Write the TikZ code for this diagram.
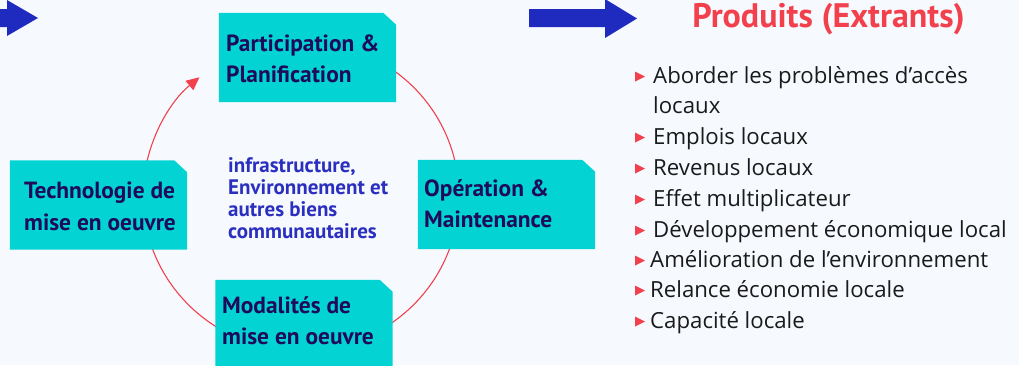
\documentclass[tikz,border=0pt]{standalone}
\usepackage{fontspec}
\setmainfont{Open Sans}
\newfontfamily\headfont{PT Sans}
\usetikzlibrary{arrows.meta}
\definecolor{bgc}{HTML}{F6FAFE}
\definecolor{tealbox}{HTML}{04D3D3}
\definecolor{boxtext}{HTML}{1E0B5B}
\definecolor{midblue}{HTML}{2B2FC0}
\definecolor{arrowblue}{HTML}{1F2BBE}
\definecolor{accent}{HTML}{F2404C}
\definecolor{listtext}{HTML}{1A1A1A}
\newcommand\chamferfill[1]{\fill[tealbox] (#1.north west) -- ([xshift=-13pt]#1.north east) -- ([yshift=-12pt]#1.north east) -- (#1.south east) -- (#1.south west) -- cycle;}
\newcommand\bulletat[2]{\fill[accent] ([shift={(-#2pt,11.5pt)}]#1.base west) -- ([shift={(-#2pt,1.5pt)}]#1.base west) -- ([shift={(10pt-#2pt,6.5pt)}]#1.base west) -- cycle;}
\begin{document}
\begin{tikzpicture}[x=1pt,y=1pt,
  stage/.style={rectangle, minimum width=177pt, minimum height=89pt, inner sep=0pt},
  stagetext/.style={font=\headfont\bfseries\fontsize{23.4}{31.5}\selectfont, text=boxtext, align=left, inner sep=0pt, anchor=west},
  midtext/.style={font=\headfont\bfseries\fontsize{21}{22}\selectfont, text=midblue, align=left, inner sep=0pt},
  ring/.style={draw=accent, line width=1.1pt},
  item/.style={font=\fontsize{22.2}{26}\selectfont, text=listtext, anchor=base west, inner sep=0pt},
  titletext/.style={font=\headfont\bfseries\fontsize{34}{38}\selectfont, text=accent, anchor=base, inner sep=0pt}]
\fill[bgc] (0,0) rectangle (1019,-365);
\useasboundingbox (0,0) rectangle (1019,-365);
% big arrows
\fill[arrowblue] (-5,-9) -- (7,-9) -- (7,0) -- (38,-18) -- (7,-36) -- (7,-27) -- (-5,-27) -- cycle;
\fill[arrowblue] (529,-9) -- (605,-9) -- (605,1) -- (637,-18.5) -- (605,-38) -- (605,-27) -- (529,-27) -- cycle;
% cycle
\coordinate (c) at (301,-196);
\draw[ring] ([shift={(55:158 and 155)}]c) arc[start angle=55, end angle=10, x radius=158, y radius=155];
\draw[ring] ([shift={(-15:158 and 155)}]c) arc[start angle=-15, end angle=-58, x radius=158, y radius=155];
\draw[ring] ([shift={(-120:158 and 155)}]c) arc[start angle=-120, end angle=-165, x radius=158, y radius=155];
\draw[ring, -{Triangle[length=13pt,width=12pt]}] ([shift={(170:158 and 155)}]c) arc[start angle=170, end angle=130, x radius=158, y radius=155];
% boxes
\node[stage] (b1) at (307.5,-57.5) {};
\node[stage] (b2) at (98.5,-205) {};
\node[stage] (b3) at (506.5,-204.5) {};
\node[stage, minimum height=92pt] (b4) at (304,-326) {};
\chamferfill{b1}
\chamferfill{b2}
\chamferfill{b3}
\chamferfill{b4}
\node[stagetext] (t1) at (226,-58.7) {Participation \&\\Planification};
\node[stagetext] (t2) at (24,-206.2) {Technologie de\\mise en oeuvre};
\node[stagetext] (t3) at (424,-203.7) {Opération \&\\Maintenance};
\node[stagetext] (t4) at (222,-320.7) {Modalités de\\mise en oeuvre};
\node[midtext, anchor=west] (mid) at (228,-198.3) {infrastructure,\\Environnement et\\autres biens\\communautaires};
% outputs
\node[titletext] (title) at (828.5,-27) {Produits (Extrants)};
\node[item] (i1) at (653,-83) {Aborder les problèmes d’accès};
\node[item] (i1b) at (653,-113) {locaux};
\node[item] (i2) at (653,-144) {Emplois locaux};
\node[item] (i3) at (653,-175) {Revenus locaux};
\node[item] (i4) at (653,-206) {Effet multiplicateur};
\node[item] (i5) at (653,-237) {Développement économique local};
\node[item] (i6) at (650,-267) {Amélioration de l’environnement};
\node[item] (i7) at (650,-297) {Relance économie locale};
\node[item] (i8) at (650,-328) {Capacité locale};
\bulletat{i1}{18}
\bulletat{i2}{18}
\bulletat{i3}{18}
\bulletat{i4}{18}
\bulletat{i5}{18}
\bulletat{i6}{15}
\bulletat{i7}{15}
\bulletat{i8}{15}
\end{tikzpicture}
\end{document}
